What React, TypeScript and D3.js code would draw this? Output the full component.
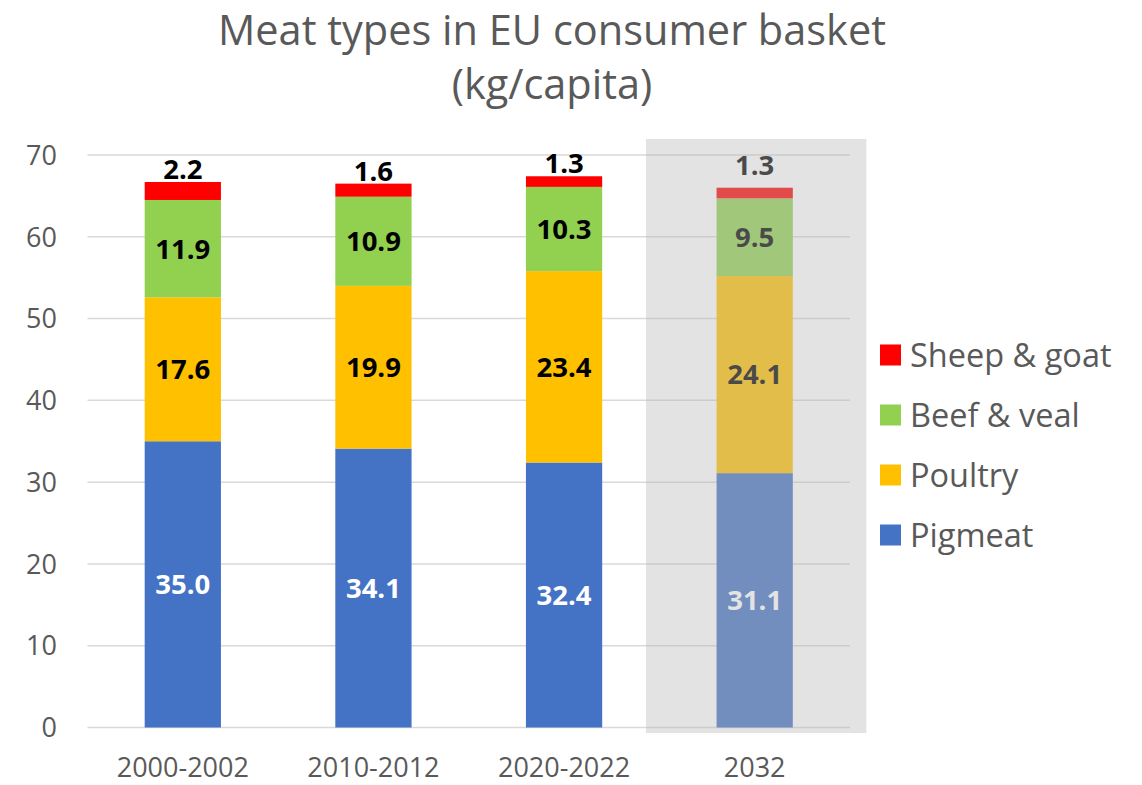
import React from 'react';
import * as d3 from 'd3';

const periods = ['2000-2002', '2010-2012', '2020-2022', '2032'];
const seriesNames = ['Pigmeat', 'Poultry', 'Beef & veal', 'Sheep & goat'];
const pigmeat = [35.0, 34.1, 32.4, 31.1];
const poultry = [17.6, 19.9, 23.4, 24.1];
const beefVeal = [11.9, 10.9, 10.3, 9.5];
const sheepGoat = [2.2, 1.6, 1.3, 1.3];
const yTicks = [0, 10, 20, 30, 40, 50, 60, 70];
const projected = '2032';

const colors = ['#4472c4', '#ffc000', '#92d050', '#ff0000'];
const labelColors = ['#ffffff', '#000000', '#000000', '#000000'];

const W = 1142;
const H = 785;
const font = "'Open Sans', 'Noto Sans', sans-serif";
const grey = '#595959';

export default function App() {
  const rows = periods.map((p, i) => ({
    period: p,
    'Pigmeat': pigmeat[i],
    'Poultry': poultry[i],
    'Beef & veal': beefVeal[i],
    'Sheep & goat': sheepGoat[i],
  }));
  const stacked = d3.stack<any>().keys(seriesNames)(rows);

  const x = d3.scaleBand().domain(periods).range([87.5, 850]).paddingInner(0.6).paddingOuter(0.3);
  const y = d3.scaleLinear().domain([0, 70]).range([727.5, 155]);
  const bw = x.bandwidth();
  const px = x(projected)!;

  return (
    <svg width={W} height={H} style={{ position: 'absolute', left: 0, top: 0 }} fontFamily={font}>
      <rect width={W} height={H} fill="#ffffff" />
      <text x={552} y={45} textAnchor="middle" fontSize={41.5} fill={grey}>Meat types in EU consumer basket</text>
      <text x={552} y={99} textAnchor="middle" fontSize={41.5} fill={grey}>(kg/capita)</text>

      {yTicks.map(t => (
        <g key={t}>
          <line x1={87.5} x2={850} y1={y(t)} y2={y(t)} stroke="#d9d9d9" strokeWidth={1.5} />
          <text x={57} y={y(t)} dy="0.36em" textAnchor="end" fontSize={27} fill={grey}>{t}</text>
        </g>
      ))}

      {stacked.map((s, si) => (
        <g key={s.key}>
          {s.map((d, i) => (
            <rect key={i} x={x(periods[i])} y={y(d[1])} width={bw} height={y(d[0]) - y(d[1])} fill={colors[si]} />
          ))}
        </g>
      ))}

      {stacked.map((s, si) => (
        <g key={s.key}>
          {s.map((d, i) => {
            const v = d[1] - d[0];
            const cx = x(periods[i])! + bw / 2;
            const top = si === stacked.length - 1;
            const ly = top ? y(d[1]) - (periods[i] === projected ? 13 : 3) : (y(d[0]) + y(d[1])) / 2;
            return (
              <text key={i} x={cx} y={ly} dy={top ? 0 : '0.36em'} textAnchor="middle" fontSize={27.5}
                fontWeight="bold" fill={labelColors[si]}>{v.toFixed(1)}</text>
            );
          })}
        </g>
      ))}

      {periods.map(p => (
        <text key={p} x={x(p)! + bw / 2} y={777} textAnchor="middle" fontSize={27} fill={grey}>{p}</text>
      ))}

      {/* projection overlay */}
      <rect x={px - 70.5} y={139} width={bw + 144} height={594} fill="#b8b8b8" opacity={0.4} />

      {[...seriesNames].reverse().map((n, i) => {
        const ci = seriesNames.length - 1 - i;
        const ly = 355 + i * 60;
        return (
          <g key={n}>
            <rect x={880} y={ly - 10.5} width={21} height={21} fill={colors[ci]} />
            <text x={910} y={ly} dy="0.36em" fontSize={32.5} fill={grey}>{n}</text>
          </g>
        );
      })}
    </svg>
  );
}
